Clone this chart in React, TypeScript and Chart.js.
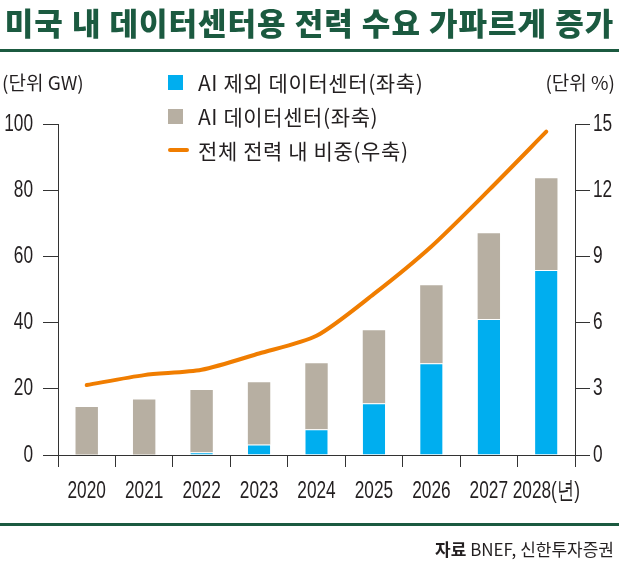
import React, { useEffect, useRef } from "react";
import { Chart, registerables } from "chart.js";
Chart.register(...registerables);

const years = ["2020", "2021", "2022", "2023", "2024", "2025", "2026", "2027", "2028(년)"];
const nonAiDC = [0, 0, 0.8, 3.2, 7.8, 15.6, 27.7, 41.1, 55.9];
const aiDC = [14.5, 16.8, 18.8, 18.8, 19.9, 22.1, 23.6, 25.9, 27.7];
const sharePct = [3.17, 3.62, 3.86, 4.6, 5.4, 7.3, 9.45, 12.0, 14.65];

const nonAiLabel = "AI 제외 데이터센터(좌축)";
const aiLabel = "AI 데이터센터(좌축)";
const shareLabel = "전체 전력 내 비중(우축)";
const titleText = "미국 내 데이터센터용 전력 수요 가파르게 증가";
const leftUnit = "(단위 GW)";
const rightUnit = "(단위 %)";
const sourceBold = "자료";
const sourceText = " BNEF, 신한투자증권";

const BLUE = "#00aeef";
const GRAY = "#b7afa2";
const ORANGE = "#f07d00";
const GREEN = "#1b5a40";
const INK = "#231f20";
const KR = "'Noto Sans CJK KR', 'Noto Sans', sans-serif";
const NUM = "'Liberation Sans', Arial, sans-serif";
const NARROW = 0.72;

const narrowPlugin = {
  id: "narrowTicks",
  beforeDraw(chart: any) {
    const ctx: any = chart.ctx;
    if (ctx.__narrowPatched) return;
    const orig = ctx.fillText;
    ctx.fillText = function (text: string, x: number, y: number, maxWidth?: number) {
      if (typeof this.font === "string" && this.font.indexOf("Liberation Sans") >= 0) {
        this.save();
        this.translate(x, y);
        this.scale(NARROW, 1);
        orig.call(this, text, 0, 0);
        this.restore();
      } else if (maxWidth !== undefined) {
        orig.call(this, text, x, y, maxWidth);
      } else {
        orig.call(this, text, x, y);
      }
    };
    ctx.__narrowPatched = true;
  },
};

export default function App() {
  const ref = useRef<HTMLCanvasElement | null>(null);

  useEffect(() => {
    if (!ref.current) return;
    const tickFont = { family: NUM, size: 24 };
    const chart = new Chart(ref.current, {
      type: "bar",
      plugins: [narrowPlugin],
      data: {
        labels: years,
        datasets: [
          {
            type: "line",
            label: shareLabel,
            data: sharePct,
            yAxisID: "y1",
            borderColor: ORANGE,
            borderWidth: 4,
            pointRadius: 0,
            tension: 0.25,
            borderCapStyle: "round",
            order: 0,
          } as any,
          {
            label: nonAiLabel,
            data: nonAiDC,
            yAxisID: "y",
            stack: "dc",
            backgroundColor: BLUE,
            borderColor: "#ffffff",
            borderWidth: { top: 1, right: 0, bottom: 0, left: 0 },
            barPercentage: 0.39,
            categoryPercentage: 1,
            order: 1,
          },
          {
            label: aiLabel,
            data: aiDC,
            yAxisID: "y",
            stack: "dc",
            backgroundColor: GRAY,
            borderWidth: 0,
            barPercentage: 0.39,
            categoryPercentage: 1,
            order: 2,
          },
        ],
      },
      options: {
        responsive: false,
        animation: false,
        devicePixelRatio: 1,
        layout: { padding: { top: 124, bottom: 47, left: 0, right: 0 } },
        plugins: { legend: { display: false }, tooltip: { enabled: false } },
        scales: {
          x: {
            stacked: true,
            offset: true,
            grid: {
              offset: true,
              drawOnChartArea: false,
              tickLength: 12,
              color: "#333",
              lineWidth: 1,
            },
            border: { display: true, color: "#333", width: 1 },
            ticks: { font: tickFont, color: INK, padding: 10, maxRotation: 0, autoSkip: false },
            afterFit: (s: any) => {
              s.height = 60;
            },
          },
          y: {
            position: "left",
            stacked: true,
            min: 0,
            max: 100,
            ticks: { stepSize: 20, font: tickFont, color: INK, padding: 10 },
            grid: { drawOnChartArea: false, tickLength: 15, color: "#333" },
            border: { display: true, color: "#333", width: 1 },
            afterFit: (s: any) => {
              s.width = 58;
            },
          },
          y1: {
            position: "right",
            min: 0,
            max: 15,
            ticks: { stepSize: 3, font: tickFont, color: INK, padding: 3 },
            grid: { drawOnChartArea: false, tickLength: 15, color: "#333" },
            border: { display: true, color: "#333", width: 1 },
            afterFit: (s: any) => {
              s.width = 44;
            },
          },
        },
      },
    });
    return () => chart.destroy();
  }, []);

  const legendItems = [
    { label: nonAiLabel, kind: "box", color: BLUE },
    { label: aiLabel, kind: "box", color: GRAY },
    { label: shareLabel, kind: "line", color: ORANGE },
  ];

  return (
    <div
      style={{
        position: "absolute",
        left: 0,
        top: 0,
        width: 619,
        height: 562,
        background: "#fff",
        overflow: "hidden",
        fontFamily: KR,
        color: INK,
      }}
    >
      <canvas
        ref={ref}
        width={619}
        height={562}
        style={{ position: "absolute", left: 0, top: 0, width: 619, height: 562 }}
      />
      <div
        style={{
          position: "absolute",
          left: 0,
          top: 0,
          width: 619,
          height: 44,
          lineHeight: "44px",
          textAlign: "center",
          fontSize: 31,
          letterSpacing: 1,
          fontWeight: 900,
          color: GREEN,
          whiteSpace: "nowrap",
        }}
      >
        {titleText}
      </div>
      <div style={{ position: "absolute", left: 0, top: 49, width: 619, height: 3, background: GREEN }} />
      <div
        style={{ position: "absolute", left: 2, top: 68, height: 28, lineHeight: "28px", fontSize: 19, whiteSpace: "nowrap" }}
      >
        {leftUnit}
      </div>
      <div
        style={{ position: "absolute", right: 4, top: 68, height: 28, lineHeight: "28px", fontSize: 19, whiteSpace: "nowrap" }}
      >
        {rightUnit}
      </div>
      <div style={{ position: "absolute", left: 168, top: 65 }}>
        {legendItems.map((it) => (
          <div key={it.label} style={{ display: "flex", alignItems: "center", height: 34 }}>
            <div style={{ width: 30, display: "flex", alignItems: "center" }}>
              {it.kind === "box" ? (
                <div style={{ width: 15, height: 15, background: it.color }} />
              ) : (
                <div style={{ width: 21, height: 4, background: it.color, borderRadius: 2 }} />
              )}
            </div>
            <span style={{ fontSize: 21, letterSpacing: 0.6, whiteSpace: "nowrap" }}>{it.label}</span>
          </div>
        ))}
      </div>
      <div style={{ position: "absolute", left: 0, top: 523, width: 619, height: 3, background: GREEN }} />
      <div
        style={{
          position: "absolute",
          right: 5,
          top: 535,
          height: 28,
          lineHeight: "28px",
          fontSize: 17,
          whiteSpace: "nowrap",
        }}
      >
        <b>{sourceBold}</b>
        {sourceText}
      </div>
    </div>
  );
}
